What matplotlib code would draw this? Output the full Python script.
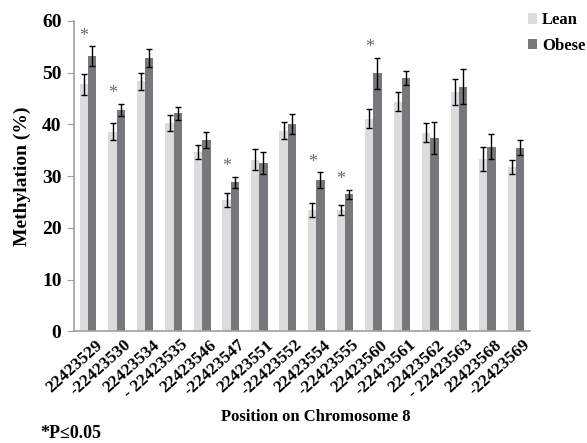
import numpy as np
import matplotlib.pyplot as plt
import matplotlib.transforms as mtransforms

positions = ["22423529", "-22423530", "22423534", "- 22423535", "22423546",
             "-22423547", "22423551", "-22423552", "22423554", "-22423555",
             "22423560", "-22423561", "22423562", "- 22423563", "22423568",
             "-22423569"]
lean = [47.7, 38.6, 48.3, 40.3, 34.6, 25.4, 33.2, 38.8, 23.4, 23.5,
        41.1, 44.4, 38.4, 46.2, 33.3, 31.8]
lean_err = [2.0, 1.6, 1.7, 1.5, 1.35, 1.3, 2.0, 1.6, 1.4, 1.0,
            1.9, 1.9, 1.85, 2.5, 2.25, 1.3]
obese = [53.2, 42.8, 52.8, 42.1, 37.0, 28.8, 32.5, 40.1, 29.2, 26.5,
         49.9, 49.0, 37.4, 47.3, 35.7, 35.5]
obese_err = [1.9, 1.2, 1.8, 1.2, 1.5, 1.1, 2.1, 1.9, 1.5, 0.85,
             3.0, 1.35, 3.1, 3.4, 2.35, 1.4]
significant = [1, 1, 0, 0, 0, 1, 0, 0, 1, 1, 1, 0, 0, 0, 0, 0]

serif = ["Liberation Serif", "DejaVu Serif"]
plt.rcParams["font.family"] = serif
plt.rcParams["font.weight"] = "bold"

fig = plt.figure(figsize=(5.87, 4.43), dpi=100)
ax = fig.add_axes([0.126, 0.252, 0.777, 0.701])

x = np.arange(len(positions))
w = 0.29
ax.bar(x - w / 2, lean, w, color="#dcdcdd", label="Lean",
       yerr=lean_err, error_kw=dict(ecolor="black", elinewidth=1, capsize=2.2, capthick=1))
ax.bar(x + w / 2, obese, w, color="#77787b", label="Obese",
       yerr=obese_err, error_kw=dict(ecolor="black", elinewidth=1, capsize=2.2, capthick=1))

# significance stars sit over the lean bar
for i, s in enumerate(significant):
    if s:
        ax.text(x[i] - w / 2, obese[i] + obese_err[i] + 1.9, "*", ha="center", va="center",
                fontsize=13, color="#6a6a6a", fontweight="normal")

ax.set_xlim(-0.5, len(positions) - 0.5)
ax.set_ylim(0, 60)
ax.set_yticks(range(0, 61, 10))
ax.tick_params(axis="y", labelsize=14, direction="out", length=5, color="#a0a0a0", pad=4)
ax.tick_params(axis="x", length=0, labelsize=12.5, pad=4)
ax.set_xticks(x)
ax.set_xticklabels(positions, rotation=42, ha="right", va="top", rotation_mode="anchor")
offset = mtransforms.ScaledTranslation(5 / 72, 0, fig.dpi_scale_trans)
for lbl in ax.get_xticklabels():
    lbl.set_transform(lbl.get_transform() + offset)

for side in ["top", "right"]:
    ax.spines[side].set_visible(False)
for side in ["left", "bottom"]:
    ax.spines[side].set_color("#a0a0a0")
    ax.spines[side].set_linewidth(1.2)

ax.set_ylabel("Methylation (%)", fontsize=14, fontweight="bold", labelpad=8)
fig.text(0.538, 0.058, "Position on Chromosome 8", ha="center", va="center",
         fontsize=12, fontweight="bold")
fig.text(0.068, 0.022, "*P\u22640.05", ha="left", va="center", fontsize=13, fontweight="bold")

fig.legend(loc="upper left", bbox_to_anchor=(0.899, 0.972), frameon=False,
           handlelength=0.55, handleheight=0.55, handletextpad=0.3,
           labelspacing=0.55, borderaxespad=0, borderpad=0,
           prop={"weight": "bold", "size": 12})

fig.savefig("out.png", dpi=100)
